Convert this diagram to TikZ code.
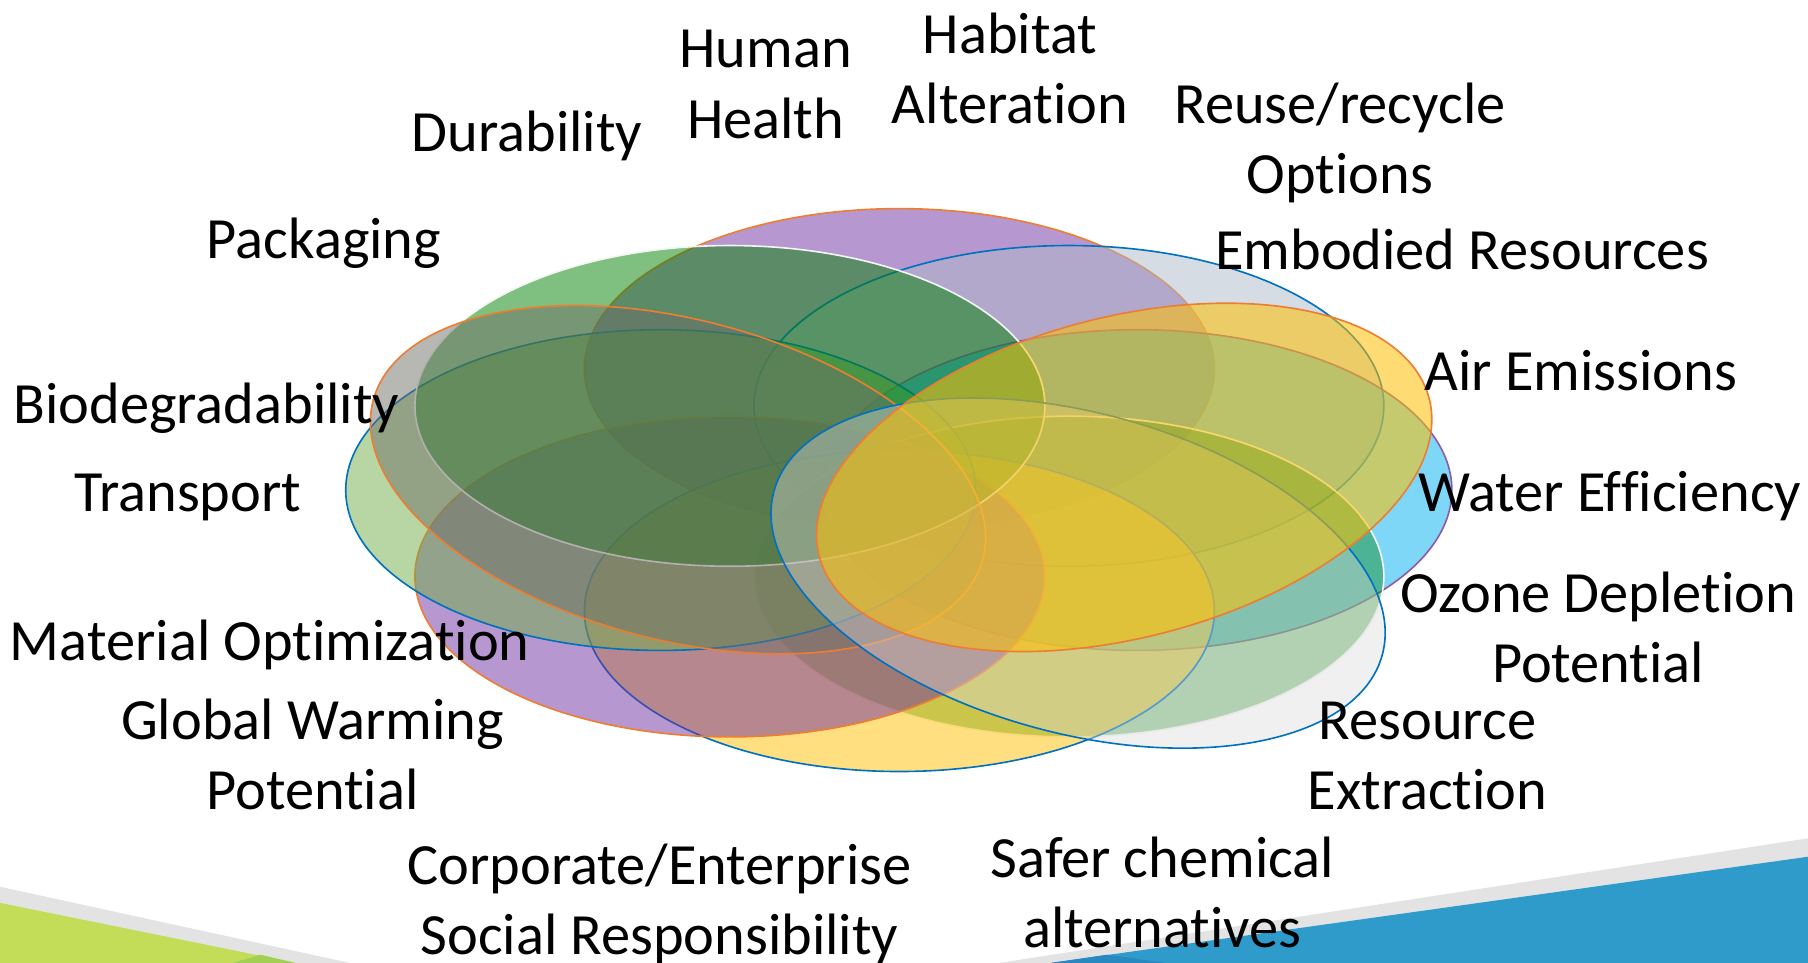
\documentclass[tikz,border=0pt]{standalone}
\usepackage{fontspec}
\setmainfont{Carlito}[Ligatures=NoCommon]
\definecolor{cPurple}{HTML}{7030A0}
\definecolor{cGreen}{HTML}{008000}
\definecolor{cGrayBlue}{HTML}{ABB9C9}
\definecolor{cGold}{HTML}{FFC000}
\definecolor{cLightGreen}{HTML}{70AD47}
\definecolor{cSky}{HTML}{00B0F0}
\definecolor{cTiltGray}{HTML}{6F6F69}
\definecolor{cPale}{HTML}{D9D9D9}
\definecolor{lOrange}{HTML}{ED7D31}
\definecolor{lBlue}{HTML}{0070C0}
\definecolor{lPurple}{HTML}{8E5AA8}
\definecolor{lWhite}{HTML}{F4F4F4}
\definecolor{decoGreen}{HTML}{C4DD59}
\definecolor{decoGreenDark}{HTML}{A3D052}
\definecolor{decoBlue}{HTML}{2E9BCB}
\definecolor{decoBlueDark}{HTML}{2888C0}
\definecolor{decoGray}{HTML}{E3E3E3}
\begin{document}
\begin{tikzpicture}[x=0.01cm,y=-0.01cm,
  lbl/.style={font=\fontsize{14.4pt}{17.36pt}\selectfont, align=center, anchor=base, inner sep=0pt, text=black},
  ell/.style={line width=0.4pt},
  er/.style={x radius=2.73cm, y radius=1.39cm}
]
\useasboundingbox (0,0) rectangle (1568,835);
% bottom decorations
\fill[decoGray] (0,769) -- (303,835) -- (0,835) -- cycle;
\fill[decoGreen] (0,783) -- (256,835) -- (0,835) -- cycle;
\fill[decoGreenDark] (202,835) -- (226,828) -- (256,835) -- cycle;
\fill[decoGray] (867,835) -- (1568,727) -- (1568,835) -- cycle;
\fill[decoBlue] (912,835) -- (1568,743) -- (1568,835) -- cycle;
\fill[decoBlueDark] (912,835) -- (960,828) -- (1010,835) -- cycle;
% ellipses, back to front
\filldraw[ell, fill=cPurple, fill opacity=0.5, draw=lOrange] (780,320) ellipse [er];
\filldraw[ell, fill=cGrayBlue, fill opacity=0.5, draw=lBlue] (927,352) ellipse [er];
\filldraw[ell, fill=cSky, fill opacity=0.5, draw=lPurple] (986,425) ellipse [er];
\filldraw[ell, fill=cGreen, fill opacity=0.4, draw=lWhite] (927,500) ellipse [er];
\filldraw[ell, fill=cGold, fill opacity=0.5, draw=lBlue] (780,530) ellipse [er];
\filldraw[ell, fill=cPurple, fill opacity=0.5, draw=lOrange] (633,500) ellipse [er];
\filldraw[ell, fill=cLightGreen, fill opacity=0.5, draw=lBlue] (573,425) ellipse [er];
\filldraw[ell, fill=cGreen, fill opacity=0.5, draw=lWhite] (633,352) ellipse [er];
\filldraw[ell, fill=cTiltGray, fill opacity=0.5, draw=lOrange, rotate around={-14.5:(588,416)}] (588,416) ellipse [er];
\filldraw[ell, fill=cPale, fill opacity=0.4, draw=lBlue, rotate around={-15:(935,497)}] (935,497) ellipse [er];
\filldraw[ell, fill=cGold, fill opacity=0.55, draw=lOrange, rotate around={14.5:(975,414)}] (975,414) ellipse [er];
% labels (anchor = baseline of the last line)
\node[lbl] (human) at (664,120) {Human\\Health};
\node[lbl] (habitat) at (876,107) {Habitat\\Alteration};
\node[lbl] (durability) at (457,131) {Durability};
\node[lbl] (reuse) at (1162,168) {Reuse/recycle\\Options};
\node[lbl] (packaging) at (281,224) {Packaging};
\node[lbl] (embodied) at (1268,234) {Embodied Resources};
\node[lbl] (air) at (1371,339) {Air Emissions};
\node[lbl] (biodeg) at (179,367) {Biodegradability};
\node[lbl] (transport) at (163,444) {Transport};
\node[lbl] (water) at (1396,444) {Water Efficiency};
\node[lbl] (ozone) at (1386,592) {Ozone Depletion\\Potential};
\node[lbl] (material) at (234,573) {Material Optimization};
\node[lbl] (gwp) at (271,702) {Global Warming\\Potential};
\node[lbl] (resource) at (1238,702) {Resource\\Extraction};
\node[lbl] (corporate) at (572,828) {Corporate/Enterprise\\Social Responsibility};
\node[lbl] (safer) at (1008,822) {Safer chemical\\alternatives};
\end{tikzpicture}
\end{document}
